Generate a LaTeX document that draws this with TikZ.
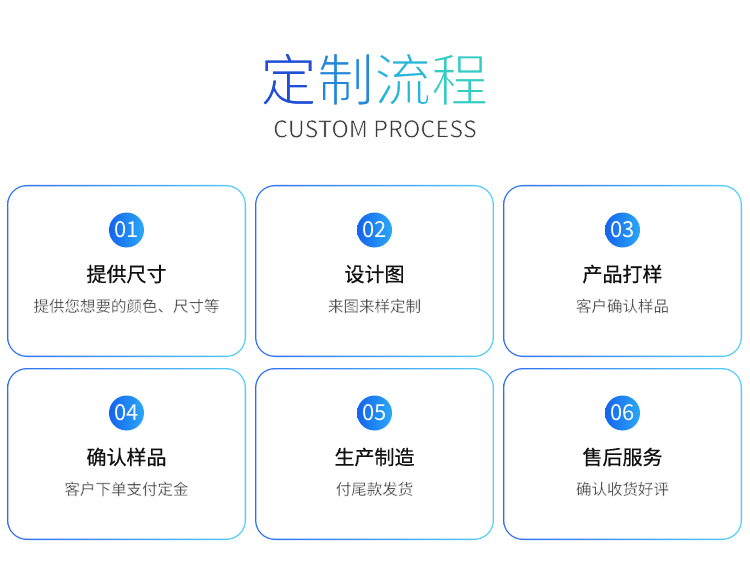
\documentclass[tikz,border=0pt]{standalone}
\usepackage{fontspec}
\setmainfont{Noto Sans CJK SC}
\newfontfamily\cjkmed[FakeBold=0.45]{Noto Sans CJK SC}
\definecolor{tA}{HTML}{1F4FD6}
\definecolor{tB}{HTML}{2388DA}
\definecolor{tC}{HTML}{25B6D8}
\definecolor{tD}{HTML}{33CDC4}
\definecolor{bordL}{HTML}{2F6DF0}
\definecolor{bordR}{HTML}{55CFF9}
\definecolor{circL}{HTML}{1463EE}
\definecolor{circR}{HTML}{2BA8F7}
\definecolor{subtxt}{HTML}{404040}
\definecolor{engtxt}{HTML}{3A3A3A}
\definecolor{headtxt}{HTML}{111111}
\newcommand{\thinchar}[2]{\textcolor{#1}{\special{pdf:literal direct 2 Tr 1 1 1 RG 1.5 w}#2\special{pdf:literal direct 0 Tr}}}
\newcommand{\thinrun}[2]{\special{pdf:literal direct 2 Tr 1 1 1 RG #1 w}#2\special{pdf:literal direct 0 Tr}}
\tikzset{
  boxouter/.style={shape=rectangle, rounded corners=20pt, minimum width=239pt, minimum height=172pt, inner sep=0pt, left color=bordL, right color=bordR, draw=none},
  boxinner/.style={shape=rectangle, rounded corners=18.7pt, minimum width=236.4pt, minimum height=169.4pt, inner sep=0pt, fill=white, draw=none},
  numcirc/.style={circle, minimum size=35pt, inner sep=0pt, shading=axis, shading angle=60, left color=circL, right color=circR, draw=none},
  numtxt/.style={text=white, font=\fontsize{22}{24}\selectfont, inner sep=0pt},
  headline/.style={anchor=base, inner sep=0pt, text=headtxt, font=\cjkmed\fontsize{20}{22}\selectfont},
  subline/.style={anchor=base, inner sep=0pt, text=subtxt, font=\fontsize{15.5}{17}\selectfont},
}
\newcommand{\stepcard}[6]{%
  \node[boxouter] (#1) at (#2,#3) {};
  \node[boxinner] (#1in) at (#1.center) {};
  \node[numcirc] (#1c) at ([yshift=41pt]#1.center) {};
  \node[numtxt] (#1n) at (#1c.center) {#4};
  \node[headline] (#1h) at ([yshift=-10.6pt]#1.center) {#5};
  \node[subline] (#1s) at ([yshift=-40.8pt]#1.center) {\thinrun{0.2}{#6}};
}
\begin{document}
\begin{tikzpicture}[x=1pt,y=-1pt]
\useasboundingbox[fill=white] (0,0) rectangle (750,567);
\node[anchor=base, inner sep=0pt, font=\fontsize{57}{60}\selectfont] (title) at (374,101)
  {\thinchar{tA}{定}\thinchar{tB}{制}\thinchar{tC}{流}\thinchar{tD}{程}};
\node[anchor=base, inner sep=0pt, text=engtxt, font=\fontsize{23.5}{26}\selectfont] (subtitle) at (375,137.5) {\thinrun{0.5}{CUSTOM PROCESS}};
\stepcard{s1}{126.5}{271}{01}{提供尺寸}{提供您想要的颜色、尺寸等}
\stepcard{s2}{374.5}{271}{02}{设计图}{来图来样定制}
\stepcard{s3}{622.5}{271}{03}{产品打样}{客户确认样品}
\stepcard{s4}{126.5}{454}{04}{确认样品}{客户下单支付定金}
\stepcard{s5}{374.5}{454}{05}{生产制造}{付尾款发货}
\stepcard{s6}{622.5}{454}{06}{售后服务}{确认收货好评}
\end{tikzpicture}
\end{document}
